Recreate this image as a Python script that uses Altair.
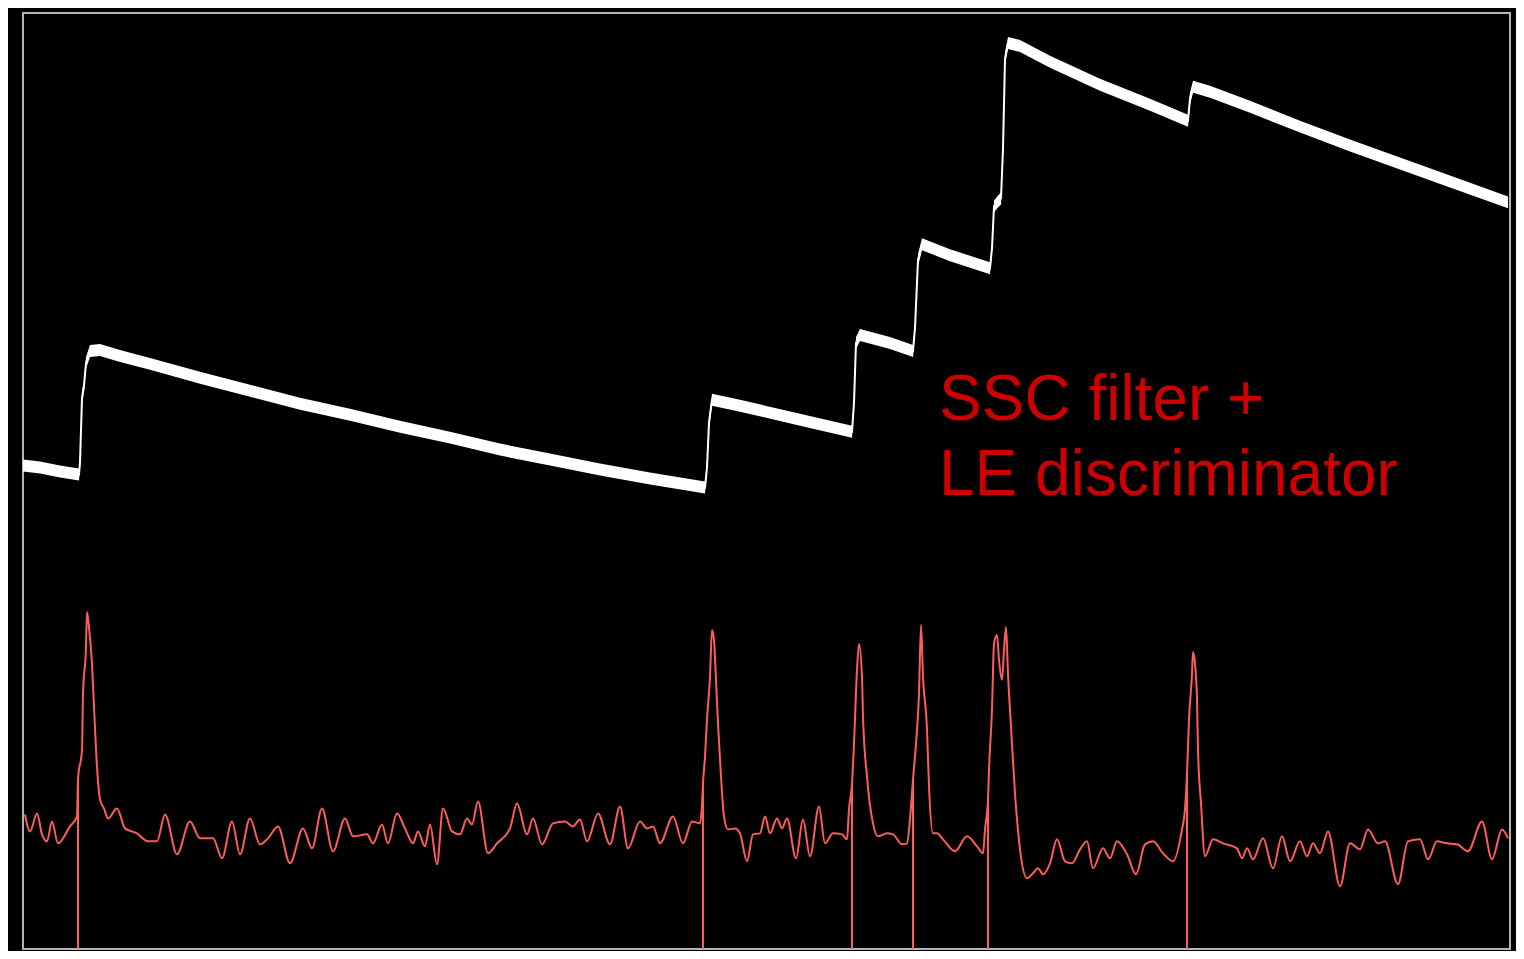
import altair as alt
import pandas as pd

# ---- white trace (raw preamp signal): time sample, amplitude ----
raw_t = [0, 17, 37, 56, 57, 59, 61, 63, 67, 77, 97, 127, 177, 227, 277, 327, 377, 427,
         477, 527, 577, 627, 682, 684, 686, 689, 717, 777, 829, 831, 833, 837, 867, 890,
         892, 895, 899, 927, 967, 969, 971, 975, 978, 980, 982, 985, 997, 1027, 1077,
         1127, 1165, 1167, 1170, 1187, 1227, 1277, 1327, 1377, 1427, 1485]
raw_a = [485, 483, 479, 476, 488, 553, 565, 588, 600, 601, 595, 587, 573, 560, 547, 536,
         524, 513, 501, 491, 481, 472, 463, 483, 528, 551, 545, 531, 519, 548, 608, 616,
         608, 600, 623, 691, 707, 696, 683, 703, 745, 750, 753, 803, 893, 909, 906, 890,
         867, 847, 831, 853, 865, 860, 845, 825, 806, 788, 770, 749]

# ---- red trace (SSC filter output) ----
flt_t = [2, 7, 14, 19, 24, 29, 35, 47, 54, 55, 59, 60, 63, 64, 66, 69, 71, 74, 77, 81,
         85, 94, 102, 114, 125, 134, 142, 154, 167, 177, 190, 199, 209, 217, 227, 237,
         245, 255, 267, 280, 289, 299, 310, 322, 330, 344, 350, 359, 365, 374, 382, 390,
         395, 402, 407, 414, 420, 429, 437, 444, 449, 455, 465, 474, 487, 494, 504, 510,
         519, 530, 542, 550, 557, 564, 575, 587, 597, 605, 617, 624, 630, 637, 650, 660,
         669, 677, 679, 680, 682, 684, 687, 689, 691, 693, 695, 698, 701, 705, 712, 717,
         724, 730, 737, 742, 747, 754, 759, 764, 773, 780, 787, 796, 802, 810, 819, 824,
         826, 829, 831, 834, 836, 839, 840, 844, 850, 855, 864, 870, 879, 884, 887, 890,
         893, 896, 898, 900, 904, 906, 910, 914, 920, 932, 944, 954, 960, 962, 965, 966,
         969, 971, 974, 976, 979, 981, 983, 985, 988, 992, 997, 1004, 1010, 1015, 1020,
         1027, 1034, 1042, 1049, 1057, 1064, 1070, 1080, 1087, 1094, 1104, 1113, 1122,
         1130, 1140, 1150, 1159, 1162, 1164, 1166, 1169, 1170, 1172, 1174, 1175, 1178,
         1182, 1190, 1200, 1214, 1219, 1224, 1230, 1240, 1250, 1259, 1267, 1277, 1284,
         1290, 1297, 1305, 1317, 1327, 1337, 1345, 1355, 1362, 1375, 1385, 1397, 1405,
         1414, 1424, 1434, 1445, 1459, 1469, 1479, 1485]
flt_a = [135, 118, 136, 115, 108, 128, 106, 123, 133, 170, 200, 256, 303, 338, 323, 286,
         243, 183, 150, 141, 131, 141, 121, 116, 108, 108, 135, 95, 128, 111, 111, 91,
         128, 95, 131, 105, 111, 123, 86, 121, 101, 141, 98, 131, 113, 115, 106, 125, 106,
         136, 121, 106, 118, 103, 125, 85, 141, 118, 115, 131, 125, 148, 96, 106, 121,
         146, 115, 131, 105, 126, 128, 123, 130, 108, 136, 105, 143, 101, 128, 121, 123,
         106, 133, 106, 128, 126, 145, 166, 193, 230, 273, 320, 310, 270, 226, 173, 133,
         120, 121, 116, 88, 115, 116, 133, 116, 131, 121, 131, 91, 130, 93, 143, 106, 116,
         115, 110, 140, 166, 206, 280, 306, 273, 233, 173, 126, 113, 116, 115, 105, 106,
         130, 170, 206, 256, 325, 273, 220, 163, 116, 116, 110, 98, 113, 103, 96, 120,
         150, 180, 240, 306, 315, 290, 270, 300, 323, 276, 223, 156, 100, 71, 76, 81, 75,
         86, 110, 88, 86, 100, 108, 81, 101, 91, 108, 95, 75, 105, 108, 96, 88, 120, 140,
         176, 230, 276, 298, 286, 250, 200, 146, 93, 110, 106, 101, 91, 101, 90, 111, 81,
         113, 88, 108, 93, 106, 96, 118, 63, 106, 100, 120, 106, 108, 65, 108, 110, 90,
         108, 106, 105, 98, 128, 90, 120, 111]

# ---- leading-edge discriminator triggers ----
trig_t = [55, 680, 829, 890, 965, 1164]
trig_a = [170, 166, 166, 170, 150, 176]

# ---- annotation ----
label_lines = ["SSC filter +", "LE discriminator"]
label_t = [916, 916]
label_a = [531, 455]

X_DOMAIN = [0, 1487]
Y_DOMAIN = [0, 939]
BAND = 6

raw = pd.DataFrame({"t": raw_t, "a": raw_a})
raw["hi"] = raw["a"] + BAND
raw["lo"] = raw["a"] - BAND
flt = pd.DataFrame({"t": flt_t, "a": flt_a})
trig = pd.DataFrame({"t": trig_t, "a": trig_a, "base": [0] * len(trig_t)})
lab = pd.DataFrame({"t": label_t, "a": label_a, "text": label_lines})

xs = alt.Scale(domain=X_DOMAIN, nice=False, zero=False)
ys = alt.Scale(domain=Y_DOMAIN, nice=False, zero=False)

raw_band = alt.Chart(raw).mark_area(color="#ffffff", opacity=1).encode(
    x=alt.X("t:Q", scale=xs, axis=None),
    y=alt.Y("hi:Q", scale=ys, axis=None),
    y2="lo:Q",
)
raw_line = alt.Chart(raw).mark_line(color="#ffffff", strokeWidth=2).encode(
    x=alt.X("t:Q", scale=xs, axis=None),
    y=alt.Y("a:Q", scale=ys, axis=None),
)
flt_line = alt.Chart(flt).mark_line(color="#ff5c5c", strokeWidth=2, interpolate="monotone").encode(
    x=alt.X("t:Q", scale=xs, axis=None),
    y=alt.Y("a:Q", scale=ys, axis=None),
)
trig_rule = alt.Chart(trig).mark_rule(color="#ff5c5c", strokeWidth=2).encode(
    x=alt.X("t:Q", scale=xs, axis=None),
    y=alt.Y("a:Q", scale=ys, axis=None),
    y2="base:Q",
)
text = alt.Chart(lab).mark_text(
    color="#cc0000", font="Liberation Sans", fontSize=64, align="left", baseline="alphabetic"
).encode(
    x=alt.X("t:Q", scale=xs, axis=None),
    y=alt.Y("a:Q", scale=ys, axis=None),
    text="text:N",
)

chart = alt.layer(raw_band, raw_line, trig_rule, flt_line, text).properties(
    width=1487,
    height=936,
    background="#000000",
    padding={"left": 15, "top": 5, "right": 6, "bottom": 2},
    autosize=alt.AutoSizeParams(type="none"),
).configure_view(
    stroke="#b4b4b4", strokeWidth=2, fill="#000000"
)

chart.save("out.html", embed_options={"renderer": "svg", "actions": False})
